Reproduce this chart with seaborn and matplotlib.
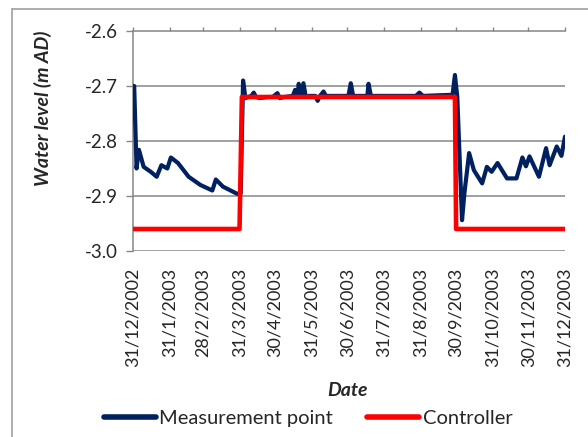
import matplotlib
matplotlib.use("Agg")
import matplotlib.pyplot as plt
from matplotlib.patches import Rectangle
from matplotlib.lines import Line2D
import seaborn as sns
import pandas as pd

# Water level at the measurement point (m AD)
meas_dates = [
    "2002-12-31", "2003-01-01", "2003-01-03", "2003-01-05", "2003-01-09", "2003-01-15",
    "2003-01-20", "2003-01-24", "2003-01-29", "2003-02-01", "2003-02-07", "2003-02-16",
    "2003-02-26", "2003-03-08", "2003-03-11", "2003-03-17", "2003-03-29", "2003-04-01",
    "2003-04-03", "2003-04-05", "2003-04-10", "2003-04-12", "2003-04-14", "2003-04-17",
    "2003-04-24", "2003-04-28", "2003-05-02", "2003-05-04", "2003-05-08", "2003-05-15",
    "2003-05-17", "2003-05-19", "2003-05-20", "2003-05-22", "2003-05-24", "2003-05-26",
    "2003-05-29", "2003-06-03", "2003-06-05", "2003-06-07", "2003-06-10", "2003-06-12",
    "2003-07-01", "2003-07-03", "2003-07-05", "2003-07-17", "2003-07-18", "2003-07-20",
    "2003-08-27", "2003-08-30", "2003-09-02", "2003-09-27", "2003-09-29", "2003-10-01",
    "2003-10-05", "2003-10-07", "2003-10-11", "2003-10-15", "2003-10-22", "2003-10-26",
    "2003-10-30", "2003-11-04", "2003-11-12", "2003-11-20", "2003-11-25", "2003-11-28",
    "2003-12-01", "2003-12-09", "2003-12-15", "2003-12-18", "2003-12-24", "2003-12-28",
    "2003-12-31",
]
meas_values = [
    -2.700, -2.700, -2.850, -2.816, -2.847, -2.856,
    -2.865, -2.844, -2.850, -2.830, -2.840, -2.865,
    -2.880, -2.890, -2.870, -2.883, -2.896, -2.895,
    -2.690, -2.722, -2.718, -2.712, -2.720, -2.722,
    -2.720, -2.720, -2.713, -2.722, -2.720, -2.718,
    -2.707, -2.720, -2.696, -2.718, -2.695, -2.720,
    -2.718, -2.718, -2.727, -2.718, -2.710, -2.718,
    -2.718, -2.695, -2.718, -2.718, -2.696, -2.718,
    -2.718, -2.712, -2.718, -2.716, -2.680, -2.720,
    -2.944, -2.895, -2.822, -2.853, -2.877, -2.847,
    -2.856, -2.840, -2.868, -2.868, -2.830, -2.846,
    -2.828, -2.865, -2.813, -2.844, -2.810, -2.827,
    -2.792,
]

# Controller set point (m AD)
ctrl_dates = ["2002-12-31", "2003-03-31", "2003-04-02", "2003-09-29", "2003-09-30", "2003-12-31"]
ctrl_values = [-2.96, -2.96, -2.72, -2.72, -2.96, -2.96]

tick_dates = ["2002-12-31", "2003-01-31", "2003-02-28", "2003-03-31", "2003-04-30",
              "2003-05-31", "2003-06-30", "2003-07-31", "2003-08-31", "2003-09-30",
              "2003-10-31", "2003-11-30", "2003-12-31"]
y_ticks = [-3.0, -2.9, -2.8, -2.7, -2.6]

meas = pd.DataFrame({"date": pd.to_datetime(meas_dates), "level": meas_values})
ctrl = pd.DataFrame({"date": pd.to_datetime(ctrl_dates), "level": ctrl_values})

sns.set_style("white")
plt.rcParams["font.family"] = ["Lato", "DejaVu Sans"]

navy = "#002060"
red = "#FF0000"
grey = "#868686"

fig = plt.figure(figsize=(5.88, 4.37), dpi=100)
fig.patches.append(Rectangle((12 / 588, -0.1), 1.2, 1 - 9 / 437 + 0.1, transform=fig.transFigure,
                             fill=False, edgecolor="#A0A0A0", linewidth=1.2, zorder=0))

ax = fig.add_axes([133 / 588, 1 - 251 / 437, (565 - 133) / 588, (251 - 31) / 437])

sns.lineplot(data=meas, x="date", y="level", ax=ax, color=navy, linewidth=3.0,
             solid_capstyle="round", solid_joinstyle="round", zorder=3)
sns.lineplot(data=ctrl, x="date", y="level", ax=ax, color=red, linewidth=3.3,
             solid_capstyle="round", solid_joinstyle="round", zorder=4)

ax.set_ylim(-3.0, -2.6)
ax.set_xlim(pd.Timestamp("2002-12-31"), pd.Timestamp("2003-12-31"))
ax.set_yticks(y_ticks)
ax.set_yticklabels([f"{v:.1f}" for v in y_ticks])
ticks = pd.to_datetime(tick_dates)
ax.set_xticks(ticks)
ax.set_xticklabels([f"{d.day}/{d.month}/{d.year}" for d in ticks], rotation=90)

for y in [-3.0, -2.9, -2.8, -2.7]:
    ax.axhline(y, color=grey, linewidth=1.1, zorder=1)

for side in ["right", "bottom"]:
    ax.spines[side].set_visible(False)
ax.spines["top"].set_color(grey)
ax.spines["top"].set_linewidth(1.1)
ax.spines["left"].set_color(grey)
ax.spines["left"].set_linewidth(1.1)

ax.tick_params(axis="x", top=True, bottom=False, labeltop=False, labelbottom=True,
               direction="out", length=3, width=1, color=grey, labelsize=13, pad=9)
ax.tick_params(axis="y", left=True, direction="out", length=5, width=1, color=grey,
               labelsize=13.5, pad=6)
ax.set_xlabel("")
ax.set_ylabel("")

fig.text(43 / 588, 1 - 108 / 437, "Water level (m AD)", rotation=90, ha="center", va="center",
         fontsize=14, fontweight="bold", fontstyle="italic")
fig.text(348 / 588, 1 - 390 / 437, "Date", ha="center", va="center",
         fontsize=14, fontweight="bold", fontstyle="italic")

handles = [Line2D([], [], color=navy, linewidth=4, solid_capstyle="round"),
           Line2D([], [], color=red, linewidth=4, solid_capstyle="round")]
fig.legend(handles, ["Measurement point", "Controller"], loc="center",
           bbox_to_anchor=(308 / 588, 1 - 418 / 437), ncol=2, frameon=False,
           fontsize=14.5, handlelength=2.6, handletextpad=0.15, columnspacing=1.7,
           borderaxespad=0)

fig.savefig("out.png", dpi=100)
